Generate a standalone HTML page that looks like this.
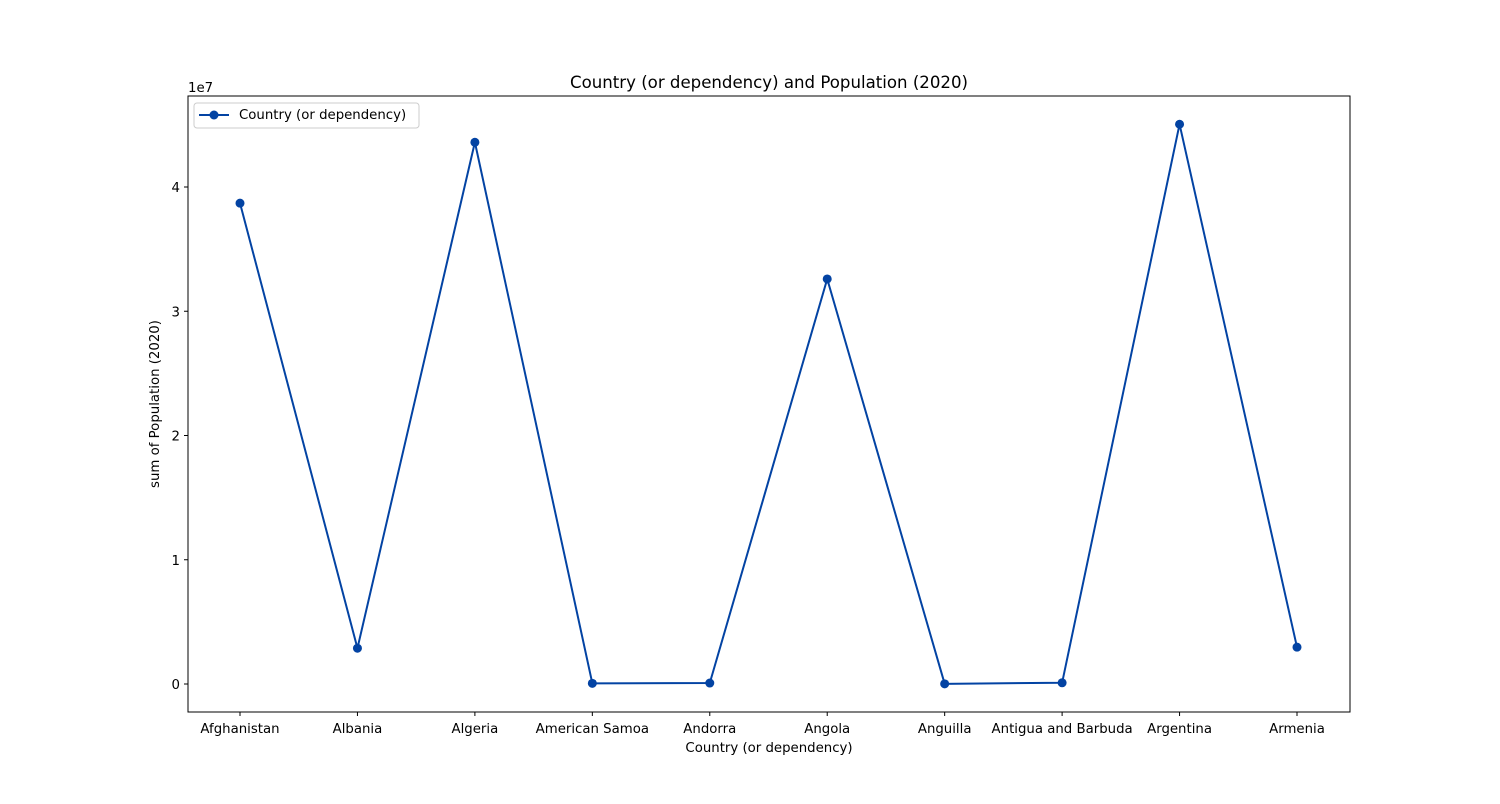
<!DOCTYPE html>
<html><head><meta charset="utf-8"><style>
body{margin:0;background:#fff;font-family:"DejaVu Sans","Liberation Sans",sans-serif;}
svg text{font-family:"DejaVu Sans","Liberation Sans",sans-serif;fill:#000}
</style></head><body>
<svg id="chart" width="1500" height="800">
<rect width="1500" height="800" fill="#fff"/>
<text x="769" y="88" font-size="16.6" text-anchor="middle">Country (or dependency) and Population (2020)</text>
<text x="188" y="92" font-size="13.3">1e7</text>
<text x="769" y="752" font-size="13.3" text-anchor="middle">Country (or dependency)</text>
<text transform="translate(159,404) rotate(-90)" font-size="13.3" text-anchor="middle">sum of Population (2020)</text>
<g id="xt"></g><g id="yt"></g>
<polyline id="line" fill="none" stroke="#0343a3" stroke-width="2"/>
<g id="pts"></g>
<rect x="188" y="96" width="1162" height="616" fill="none" stroke="#000" stroke-width="1"/>
<g>
<rect x="194" y="103" width="225" height="25" rx="3" fill="#fff" stroke="#ccc"/>
<line x1="199" y1="115" x2="229" y2="115" stroke="#0343a3" stroke-width="2"/>
<circle cx="214" cy="115" r="4.5" fill="#0343a3"/>
<text x="239" y="119" font-size="13.3">Country (or dependency)</text>
</g>
</svg>
<script>
const categories=["Afghanistan","Albania","Algeria","American Samoa","Andorra","Angola","Anguilla","Antigua and Barbuda","Argentina","Armenia"];
const values=[38700000,2880000,43600000,55000,77000,32600000,15000,98000,45050000,2963000];
const yTicks=[0,10000000,20000000,30000000,40000000];
const yTickLabels=["0","1","2","3","4"];
const NS="http://www.w3.org/2000/svg";
function xs(i){return 240+i*(1297-240)/(categories.length-1);}
function ys(v){return 684-v*(684-187)/40000000;}
function mk(t,a,p){const e=document.createElementNS(NS,t);for(const k in a)e.setAttribute(k,a[k]);p.appendChild(e);return e;}
const xt=document.getElementById('xt'),yt=document.getElementById('yt'),pts=document.getElementById('pts');
categories.forEach((c,i)=>{
 const l=mk('line',{x1:xs(i),x2:xs(i),y1:712,y2:716,stroke:'#000'},xt);
 
 
 const t=mk('text',{x:xs(i),y:733,'font-size':13.3,'text-anchor':'middle'},xt);t.textContent=c;
 
 
});
yTicks.forEach((v,i)=>{
 const l=mk('line',{x1:184,x2:188,y1:ys(v),y2:ys(v),stroke:'#000'},yt);
 
 
 const t=mk('text',{x:180,y:ys(v)+5,'font-size':13.3,'text-anchor':'end'},yt);t.textContent=yTickLabels[i];
 
 
});
document.getElementById('line').setAttribute('points',values.map((v,i)=>xs(i)+','+ys(v)).join(' '));
values.forEach((v,i)=>{
 const c=mk('circle',{cx:xs(i),cy:ys(v),r:4.5,fill:'#0343a3'},pts);
 
 
});
</script>
</body></html>
